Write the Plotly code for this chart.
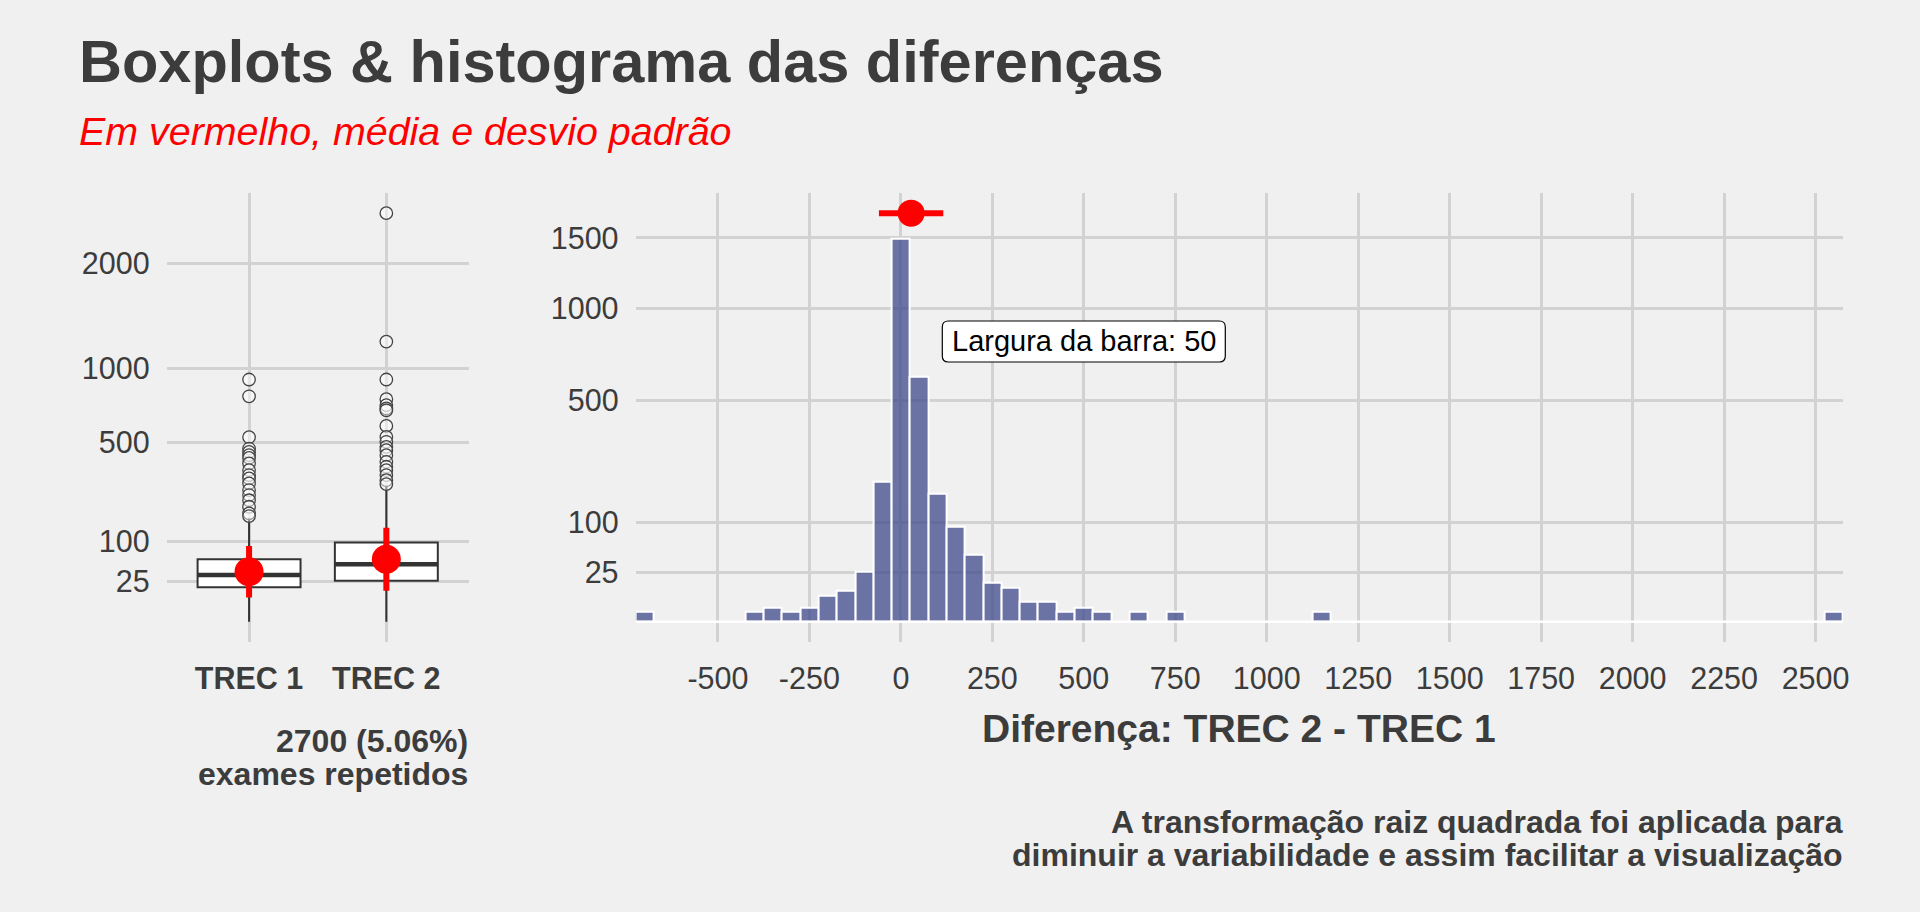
import numpy as np
import plotly.graph_objects as go

# ---------------- data ----------------
groups = ["TREC 1", "TREC 2"]
group_pos = [1, 2]
box_q1 = [18.6, 26.3]
box_median = [34.1, 51.4]
box_q3 = [60.8, 98.0]
box_low = [0.0, 0.0]
box_high = [168.0, 284.0]
# mean and standard deviation (computed on the square-root scale)
mean_sqrt = [6.26, 7.81]
sd_sqrt = [3.21, 3.92]
out_trec1 = [913, 791, 530, 467, 449, 432, 418, 390, 358, 335, 320, 298, 270, 250, 230, 206, 183, 174]
out_trec2 = [2597, 1221, 913, 771, 730, 708, 696, 597, 532, 504, 476, 458, 432, 398, 374, 358, 335, 312, 295]
box_yticks = [25, 100, 500, 1000, 2000]

bin_centers = [-700, -400, -350, -300, -250, -200, -150, -100, -50, 0, 50, 100, 150,
               200, 250, 300, 350, 400, 450, 500, 550, 650, 750, 1150, 2550]
bin_counts = [1, 1, 2, 1, 2, 7, 10, 26, 200, 1491, 610, 167, 92,
              46, 16, 12, 4, 4, 1, 2, 1, 1, 1, 1, 1]
bin_width = 50
diff_mean = 28
diff_sd = 88
diff_marker_y = 1700
hist_xticks = [-500, -250, 0, 250, 500, 750, 1000, 1250, 1500, 1750, 2000, 2250, 2500]
hist_yticks = [25, 100, 500, 1000, 1500]
label_x, label_y = 500, 800

# ---------------- style ----------------
BG = "#F0F0F0"
GRID = "#D2D2D2"
TXT = "#3C3C3C"
FONT = "Liberation Sans, Arial, Helvetica, sans-serif"
W, H = 1920, 912

def px_x(p):
    return p / W

def px_y(p):
    return 1 - p / H

ydom = [px_y(642.3), px_y(192.7)]
x1dom = [px_x(166.7), px_x(468.7)]
x2dom = [px_x(635.6), px_x(1843.0)]

sq = np.sqrt
fig = go.Figure()

# ---- boxplots ----
fig.add_trace(go.Box(
    x=group_pos, q1=sq(box_q1), median=sq(box_median), q3=sq(box_q3),
    lowerfence=sq(box_low), upperfence=sq(box_high),
    width=0.75, fillcolor="white", line=dict(color="#333333", width=2),
    whiskerwidth=0, boxpoints=False, xaxis="x", yaxis="y", hoverinfo="skip",
    showlegend=False))

mx, my = [], []
for p, m in zip(group_pos, box_median):
    mx += [p - 0.375, p + 0.375, None]
    my += [sq(m), sq(m), None]
fig.add_trace(go.Scatter(x=mx, y=my, mode="lines", line=dict(color="#333333", width=4.5),
                         xaxis="x", yaxis="y", hoverinfo="skip", showlegend=False))

ox = [group_pos[0]] * len(out_trec1) + [group_pos[1]] * len(out_trec2)
oy = list(sq(out_trec1)) + list(sq(out_trec2))
fig.add_trace(go.Scatter(x=ox, y=oy, mode="markers",
                         marker=dict(size=12.5, color="rgba(255,255,255,0.45)",
                                     line=dict(color="#444444", width=1.3)),
                         xaxis="x", yaxis="y", hoverinfo="skip", showlegend=False))

fig.add_trace(go.Scatter(x=group_pos, y=mean_sqrt, mode="markers",
                         marker=dict(size=29, color="#FF0000"),
                         error_y=dict(type="data", array=sd_sqrt, color="#FF0000",
                                      thickness=6, width=0),
                         xaxis="x", yaxis="y", hoverinfo="skip", showlegend=False))

# ---- histogram ----
edge_lo = bin_centers[0] - bin_width / 2
edge_hi = bin_centers[-1] + bin_width / 2
fig.add_trace(go.Scatter(x=[edge_lo, edge_hi], y=[0, 0], mode="lines",
                         line=dict(color="white", width=2.5),
                         xaxis="x2", yaxis="y2", hoverinfo="skip", showlegend=False))
fig.add_trace(go.Bar(x=bin_centers, y=sq(bin_counts), width=bin_width,
                     marker=dict(color="rgba(61,73,139,0.75)",
                                 line=dict(color="white", width=2)),
                     xaxis="x2", yaxis="y2", hoverinfo="skip", showlegend=False))
fig.add_trace(go.Scatter(x=[diff_mean], y=[sq(diff_marker_y)], mode="markers",
                         marker=dict(size=27, color="#FF0000"),
                         error_x=dict(type="data", array=[diff_sd], color="#FF0000",
                                      thickness=6, width=0),
                         xaxis="x2", yaxis="y2", hoverinfo="skip", showlegend=False))

# ---------------- axes ----------------
box_top = sq(max(out_trec1 + out_trec2))
hist_top = sq(diff_marker_y)
axis_common = dict(showgrid=True, gridcolor=GRID, gridwidth=3, zeroline=False,
                   showline=False, ticks="", automargin=False, fixedrange=True,
                   tickfont=dict(family=FONT, size=30.5, color=TXT))

fig.update_layout(
    xaxis=dict(domain=x1dom, anchor="y", range=[0.4, 2.6], tickmode="array",
               tickvals=group_pos, ticktext=["<b>%s</b>" % g for g in groups],
               ticklabelstandoff=15, **axis_common),
    yaxis=dict(domain=ydom, anchor="x", range=[-0.05 * box_top, 1.05 * box_top],
               tickmode="array", tickvals=sq(box_yticks),
               ticktext=[str(t) for t in box_yticks], ticklabelstandoff=16, **axis_common),
    xaxis2=dict(domain=x2dom, anchor="y2", range=[edge_lo, edge_hi], tickmode="array",
                tickvals=hist_xticks, ticktext=[str(t) for t in hist_xticks],
                ticklabelstandoff=15, **axis_common),
    yaxis2=dict(domain=ydom, anchor="x2", range=[-0.05 * hist_top, 1.05 * hist_top],
                tickmode="array", tickvals=sq(hist_yticks),
                ticktext=[str(t) for t in hist_yticks], ticklabelstandoff=16, **axis_common),
)

# rounded label box (pixel-sized, anchored at the label position)
bw, bh, r = 283, 41, 6
hw, hh = bw / 2, bh / 2
box_path = (f"M {-hw + r},{-hh} L {hw - r},{-hh} Q {hw},{-hh} {hw},{-hh + r} "
            f"L {hw},{hh - r} Q {hw},{hh} {hw - r},{hh} L {-hw + r},{hh} "
            f"Q {-hw},{hh} {-hw},{hh - r} L {-hw},{-hh + r} Q {-hw},{-hh} {-hw + r},{-hh} Z")
fig.add_shape(type="path", xref="x2", yref="y2", xsizemode="pixel", ysizemode="pixel",
              xanchor=label_x, yanchor=sq(label_y), path=box_path,
              fillcolor="white", line=dict(color="black", width=1.2), layer="above")

# ---------------- texts ----------------
ann = []
ann.append(dict(text="<b>Boxplots & histograma das diferenças</b>", xref="paper", yref="paper",
                x=px_x(77), y=px_y(61.5), xanchor="left", yanchor="middle", showarrow=False,
                font=dict(family=FONT, size=59.5, color=TXT)))
ann.append(dict(text="<i>Em vermelho, média e desvio padrão</i>", xref="paper", yref="paper",
                x=px_x(77), y=px_y(131), xanchor="left", yanchor="middle", showarrow=False,
                font=dict(family=FONT, size=39.4, color="#FF0000")))
ann.append(dict(text="<b>Diferença: TREC 2 - TREC 1</b>", xref="paper", yref="paper",
                x=(x2dom[0] + x2dom[1]) / 2, y=px_y(728.3), xanchor="center", yanchor="middle",
                showarrow=False, font=dict(family=FONT, size=39, color=TXT)))
ann.append(dict(text="<b>2700 (5.06%)</b>", xref="paper", yref="paper",
                x=px_x(470), y=px_y(740.8), xanchor="right", yanchor="middle",
                showarrow=False, font=dict(family=FONT, size=32, color=TXT)))
ann.append(dict(text="<b>exames repetidos</b>", xref="paper", yref="paper",
                x=px_x(470), y=px_y(773.9), xanchor="right", yanchor="middle",
                showarrow=False, font=dict(family=FONT, size=32, color=TXT)))
ann.append(dict(text="<b>A transformação raiz quadrada foi aplicada para</b>", xref="paper",
                yref="paper", x=px_x(1845), y=px_y(822), xanchor="right", yanchor="middle",
                showarrow=False, font=dict(family=FONT, size=32, color=TXT)))
ann.append(dict(text="<b>diminuir a variabilidade e assim facilitar a visualização</b>",
                xref="paper", yref="paper", x=px_x(1845), y=px_y(854.5), xanchor="right",
                yanchor="middle", showarrow=False, font=dict(family=FONT, size=32, color=TXT)))
ann.append(dict(text="Largura da barra: 50", xref="x2", yref="y2", x=label_x, y=sq(label_y),
                xanchor="center", yanchor="middle", showarrow=False,
                font=dict(family=FONT, size=29, color="black")))

fig.update_layout(
    template="none", width=W, height=H, autosize=False,
    margin=dict(l=0, r=0, t=0, b=0, pad=0),
    paper_bgcolor=BG, plot_bgcolor=BG, showlegend=False, bargap=0,
    annotations=ann, font=dict(family=FONT, color=TXT),
)

fig.write_html("out.html", config={"displayModeBar": False})
